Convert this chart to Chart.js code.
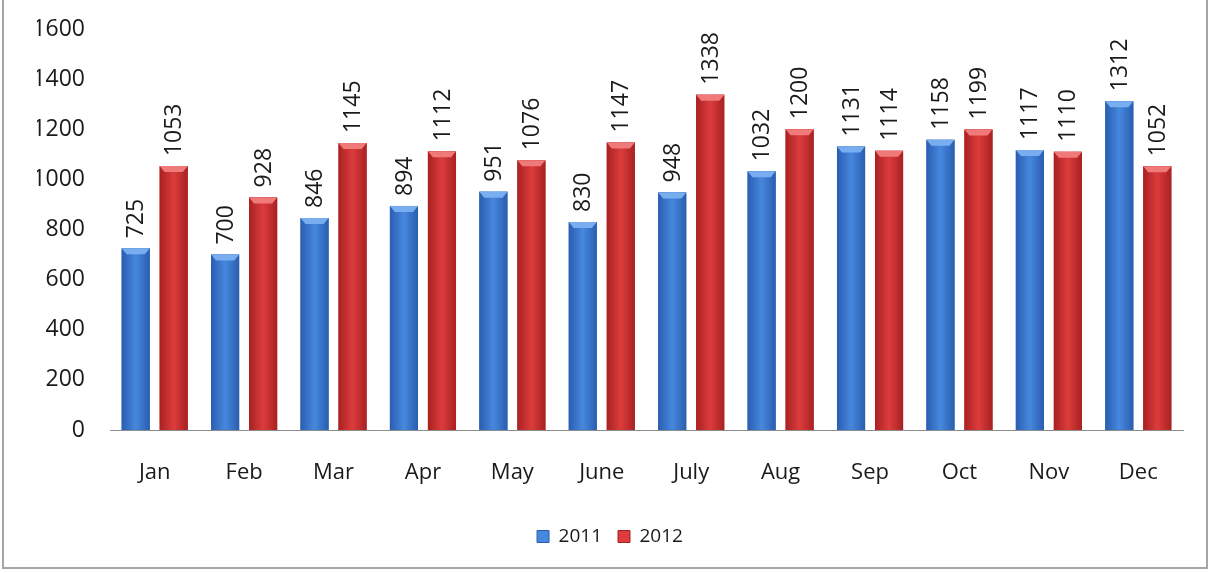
<!DOCTYPE html>
<html>
<head>
<meta charset="utf-8">
<script src="https://cdn.jsdelivr.net/npm/chart.js@4/dist/chart.umd.min.js"></script>
<style>
  html, body { margin: 0; padding: 0; background: #fff; }
  #wrap { position: relative; width: 1211px; height: 573px; }
  #frame { position: absolute; left: 2px; top: -2px; width: 1206px; height: 571px; border: 2px solid #a6a6a6; box-sizing: border-box; pointer-events: none; }
</style>
</head>
<body>
<div id="wrap">
  <canvas id="chart" width="1211" height="573"></canvas>
  <div id="frame"></div>
</div>
<script>
const months = ['Jan','Feb','Mar','Apr','May','June','July','Aug','Sep','Oct','Nov','Dec'];
const sales2011 = [725,700,846,894,951,830,948,1032,1131,1158,1117,1312];
const sales2012 = [1053,928,1145,1112,1076,1147,1338,1200,1114,1199,1110,1052];
const yMax = 1600;
const yStep = 200;

const fontFamily = '"Open Sans", "Liberation Sans", sans-serif';
const textColor = '#1a1a1a';

const shades = {
  blue: { edge:'#2a5db0', mid:'#4688de', top:'#78aef0', solid:'#3570c6' },
  red:  { edge:'#a82122', mid:'#dc3c3c', top:'#f07a7a', solid:'#c42c2c' }
};

// paints each bar with a side-to-side gradient and a light bevel on top
const bevelBars = {
  id: 'bevelBars',
  afterDatasetsDraw(chart) {
    const ctx = chart.ctx;
    chart.data.datasets.forEach((ds, i) => {
      const meta = chart.getDatasetMeta(i);
      const s = shades[ds.shade];
      meta.data.forEach(bar => {
        const { x, y, base, width } = bar.getProps(['x','y','base','width'], true);
        const l = x - width / 2, r = x + width / 2;
        const g = ctx.createLinearGradient(l, 0, r, 0);
        g.addColorStop(0, s.edge);
        g.addColorStop(0.5, s.mid);
        g.addColorStop(1, s.edge);
        ctx.save();
        ctx.fillStyle = g;
        ctx.fillRect(l, y, width, base - y);
        const b = Math.min(6, (base - y) / 2);
        ctx.fillStyle = s.top;
        ctx.beginPath();
        ctx.moveTo(l, y);
        ctx.lineTo(r, y);
        ctx.lineTo(r - 5, y + b);
        ctx.lineTo(l + 5, y + b);
        ctx.closePath();
        ctx.fill();
        ctx.restore();
      });
    });
  }
};

// vertical value labels above the bars
const valueLabels = {
  id: 'valueLabels',
  afterDatasetsDraw(chart) {
    const ctx = chart.ctx;
    ctx.save();
    ctx.font = '23px ' + fontFamily;
    ctx.fillStyle = textColor;
    ctx.textAlign = 'left';
    ctx.textBaseline = 'middle';
    chart.data.datasets.forEach((ds, i) => {
      chart.getDatasetMeta(i).data.forEach((bar, j) => {
        ctx.save();
        ctx.translate(bar.x, bar.y - 10);
        ctx.rotate(-Math.PI / 2);
        ctx.fillText(String(ds.data[j]), 0, 1);
        ctx.restore();
      });
    });
    ctx.restore();
  }
};

new Chart(document.getElementById('chart'), {
  type: 'bar',
  data: {
    labels: months,
    datasets: [
      { label:'2011', data: sales2011, shade:'blue', backgroundColor: shades.blue.solid },
      { label:'2012', data: sales2012, shade:'red', backgroundColor: shades.red.solid }
    ]
  },
  options: {
    responsive: false,
    animation: false,
    layout: { padding: { top: 29, right: 28, bottom: 17, left: 37 } },
    categoryPercentage: 0.85,
    barPercentage: 0.74,
    plugins: {
      tooltip: { enabled: false },
      legend: {
        position: 'bottom',
        labels: {
          color: textColor,
          font: { family: fontFamily, size: 19 },
          boxWidth: 12, boxHeight: 12, padding: 16,
          generateLabels(chart) {
            return chart.data.datasets.map((ds, i) => ({
              text: ds.label, fillStyle: shades[ds.shade].mid, strokeStyle: shades[ds.shade].edge,
              lineWidth: 1, datasetIndex: i, fontColor: textColor
            }));
          }
        }
      }
    },
    scales: {
      x: {
        grid: { display: false, drawTicks: false },
        border: { display: true, color: '#8c8c8c', width: 1 },
        ticks: { color: textColor, font: { family: fontFamily, size: 22 }, padding: 30 },
        afterFit(scale) { scale.height = 81; }
      },
      y: {
        min: 0, max: yMax,
        grid: { display: false, drawTicks: true, tickLength: 22 },
        border: { display: false },
        ticks: { stepSize: yStep, color: textColor, font: { family: fontFamily, size: 23 }, padding: 3,
                 callback: v => String(v) },
        afterFit(scale) { scale.width = 73; }
      }
    }
  },
  plugins: [bevelBars, valueLabels]
});
</script>
</body>
</html>
